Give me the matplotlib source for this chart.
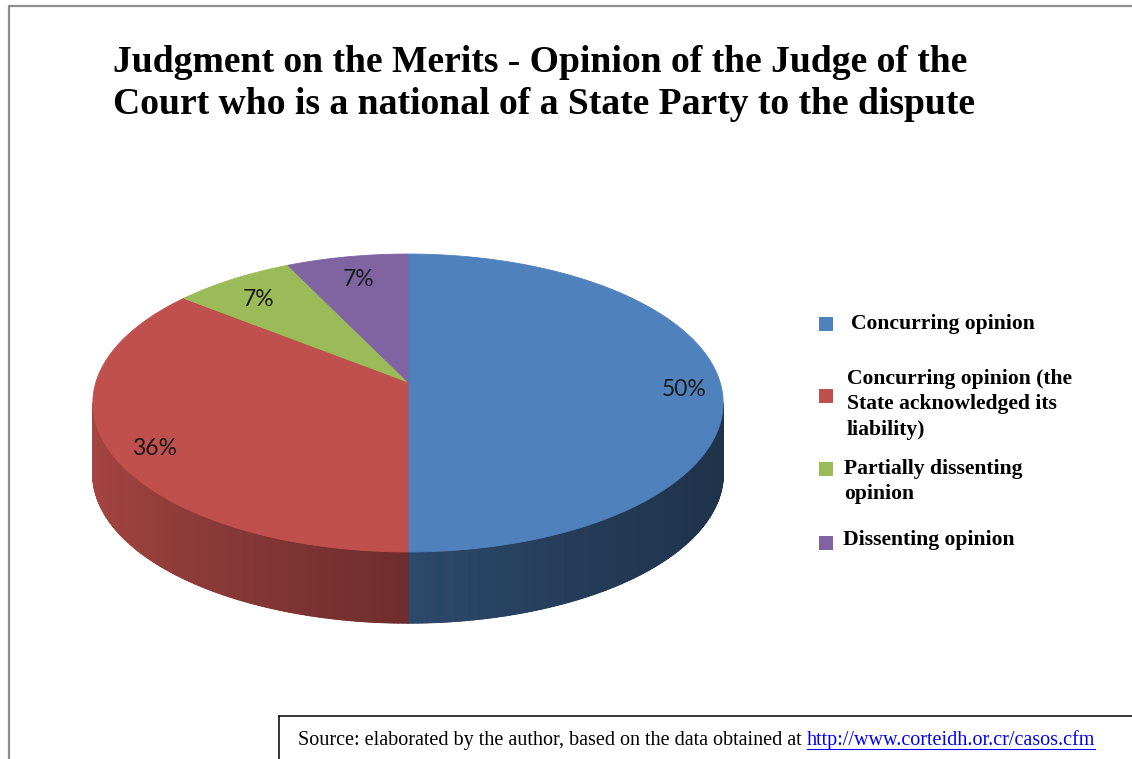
import numpy as np
import matplotlib
matplotlib.use("Agg")
import matplotlib.pyplot as plt
import matplotlib.transforms as mtransforms
from matplotlib.path import Path
from matplotlib.colors import to_rgb

# ---------------- data ----------------
categories = [
    "Concurring opinion",
    "Concurring opinion (the\nState acknowledged its\nliability)",
    "Partially dissenting\nopinion",
    "Dissenting opinion",
]
counts = [7, 5, 1, 1]
colors = ["#4F81BD", "#C0504D", "#9BBB59", "#8064A2"]
title_lines = [
    "Judgment on the Merits - Opinion of the Judge of the",
    "Court who is a national of a State Party to the dispute",
]
source_text = "Source: elaborated by the author, based on the data obtained at "
source_link = "http://www.corteidh.or.cr/casos.cfm"

# ---------------- layout ----------------
W, H = 1132, 759
fig = plt.figure(figsize=(W / 100, H / 100), dpi=100)
ax = fig.add_axes([0, 0, 1, 1])

CX, CY = 408.0, 382.0   # apex of the pie (pixels)
RX, RY = 312.0, 146.0   # radii of the tilted disc
B = 0.141               # perspective strength
DEPTH = 71.0            # thickness of the pie (pixels)


def persp_xy(x, y):
    d = 1.0 + B * y
    return CX + RX * x / d, CY - RY * y / d


class Persp(mtransforms.Transform):
    input_dims = 2
    output_dims = 2
    is_separable = False
    has_inverse = False

    def transform_non_affine(self, values):
        v = np.asarray(values, dtype=float).reshape(-1, 2)
        px, py = persp_xy(v[:, 0], v[:, 1])
        return np.column_stack([px, py])

    def transform_path_non_affine(self, path):
        verts, codes = [], []
        for seg, code in path.iter_bezier(simplify=False):
            if code == Path.MOVETO:
                verts.append(seg.control_points[0])
                codes.append(Path.MOVETO)
            else:
                n = 1 if seg.degree <= 1 else 30
                tt = np.linspace(0, 1, n + 1)[1:]
                p = np.atleast_2d(seg(tt))
                verts.extend(list(p))
                codes.extend([Path.LINETO] * len(p))
        if not verts:
            return path
        return Path(self.transform_non_affine(np.array(verts)), codes)


persp = Persp()

wedges, _, autotexts = ax.pie(
    counts, colors=colors, startangle=90, counterclock=False,
    autopct="%1.0f%%", pctdistance=0.87, labeldistance=None,
    textprops=dict(fontsize=16.5, family="Lato", color="#1a1a1a"),
)
ax.set_aspect("auto")
ax.set_xlim(0, W)
ax.set_ylim(H, 0)
ax.axis("off")

label_shift = mtransforms.Affine2D().translate(5, -8)
for w in wedges:
    w.set_transform(persp + ax.transData)
    w.set_edgecolor(w.get_facecolor())
    w.set_linewidth(0.6)
    w.set_zorder(3)
for t in autotexts:
    t.set_transform(persp + ax.transData + label_shift)
    t.set_zorder(4)

# side walls (front half), shaded from left (light) to right (dark)
ts = np.degrees(np.arcsin(-B))
band_lo, band_hi = 180.0 - ts, 360.0 + ts


def shade(x):
    return 0.57 - 0.24 * x + 0.06 * x * x


for w, col in zip(wedges, colors):
    base = np.array(to_rgb(col))
    th1, th2 = w.theta1, w.theta2
    for k in (-1, 0, 1):
        lo = max(th1 + 360 * k, band_lo)
        hi = min(th2 + 360 * k, band_hi)
        if hi <= lo:
            continue
        # underlying full wall to hide seams between strips
        tt = np.radians(np.linspace(lo, hi, 200))
        px, py = persp_xy(np.cos(tt), np.sin(tt))
        cmid = np.clip(base * shade(np.cos(np.radians((lo + hi) / 2))), 0, 1)
        ax.fill(np.concatenate([px, px[::-1]]), np.concatenate([py, py[::-1] + DEPTH]),
                color=cmid, lw=0.6, ec=cmid, zorder=1.5)
        n = max(2, int(np.ceil((hi - lo) / 0.75)))
        edges = np.linspace(lo, hi, n + 1)
        for a0, a1 in zip(edges[:-1], edges[1:]):
            tt = np.radians(np.linspace(a0, a1, 4))
            px, py = persp_xy(np.cos(tt), np.sin(tt))
            xs = np.concatenate([px, px[::-1]])
            ys = np.concatenate([py, py[::-1] + DEPTH])
            c = np.clip(base * shade(np.cos(np.radians((a0 + a1) / 2))), 0, 1)
            ax.fill(xs, ys, color=c, lw=1.0, ec=c, zorder=2)

# ---------------- frame ----------------
ax.plot([8.5, 8.5], [6, H], color="#8e8e8e", lw=1.6, solid_capstyle="butt", zorder=1)
ax.plot([8, W], [6, 6], color="#8e8e8e", lw=1.6, solid_capstyle="butt", zorder=1)

# ---------------- title ----------------
for i, line in enumerate(title_lines):
    ax.text(113, 62 + 42 * i, line, fontsize=27.1, fontweight="bold",
            family="Liberation Serif", ha="left", va="center", color="black")

# ---------------- legend ----------------
leg_marker_y = [324, 396, 469, 543]
leg_text_x = [851, 847, 844, 843]
leg_text_y0 = [324, 379, 469, 540]
for cat, col, my, tx, ty in zip(categories, colors, leg_marker_y, leg_text_x, leg_text_y0):
    ax.scatter([825.5], [my], marker="s", s=95, color=col, zorder=5, linewidths=0)
    for j, ln in enumerate(cat.split("\n")):
        ax.text(tx, ty + 25.5 * j, ln, fontsize=15.6, fontweight="bold",
                family="Liberation Serif", ha="left", va="center", color="black")

# ---------------- source box ----------------
ax.plot([278.5, 278.5], [715.5, H], color="black", lw=1.1, solid_capstyle="butt", zorder=5)
ax.plot([278, W], [715.5, 715.5], color="black", lw=1.1, solid_capstyle="butt", zorder=5)
st = ax.text(298, 740, source_text, fontsize=14.5, family="Liberation Serif",
             ha="left", va="center", color="black")
fig.canvas.draw()
r = fig.canvas.get_renderer()
bb = st.get_window_extent(r)
x_end = ax.transData.inverted().transform((bb.x1, bb.y0))[0]
lt = ax.text(x_end, 740, source_link, fontsize=14.5, family="Liberation Serif",
             ha="left", va="center", color="#0000ff")
bb2 = lt.get_window_extent(r)
x_link_end = ax.transData.inverted().transform((bb2.x1, bb2.y0))[0]
ax.plot([x_end, x_link_end], [748.5, 748.5], color="#0000ff", lw=0.8, zorder=5)

fig.savefig("out.png", dpi=100, facecolor="white")
